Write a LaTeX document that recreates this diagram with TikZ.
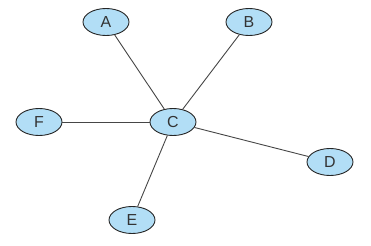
\documentclass[tikz,border=0pt]{standalone}
\usepackage{fontspec}
\setmainfont{Liberation Sans}
\usetikzlibrary{shapes.geometric}
\definecolor{nodefill}{RGB}{178,222,246}
\definecolor{edgecol}{RGB}{70,70,70}
\tikzset{
  vert/.style={ellipse, draw=black!85, line width=0.9pt, fill=nodefill,
    minimum width=46bp, minimum height=27bp, inner sep=0pt,
    font=\fontsize{16}{16}\selectfont, text=black!80},
  edge/.style={draw=edgecol, line width=0.9pt}
}
\begin{document}
\begin{tikzpicture}[x=1bp,y=-1bp]
\useasboundingbox (0,0) rectangle (371,246);
\fill[white] (0,0) rectangle (371,246);
\node[vert] (A) at (106,22) {A};
\node[vert] (B) at (249,22) {B};
\node[vert] (C) at (173,122) {C};
\node[vert] (F) at (39,122) {F};
\node[vert] (D) at (330,162) {D};
\node[vert] (E) at (132,220) {E};
\draw[edge] (A) -- (C);
\draw[edge] (B) -- (C);
\draw[edge] (F) -- (C);
\draw[edge] (D) -- (C);
\draw[edge] (E) -- (C);
\end{tikzpicture}
\end{document}
